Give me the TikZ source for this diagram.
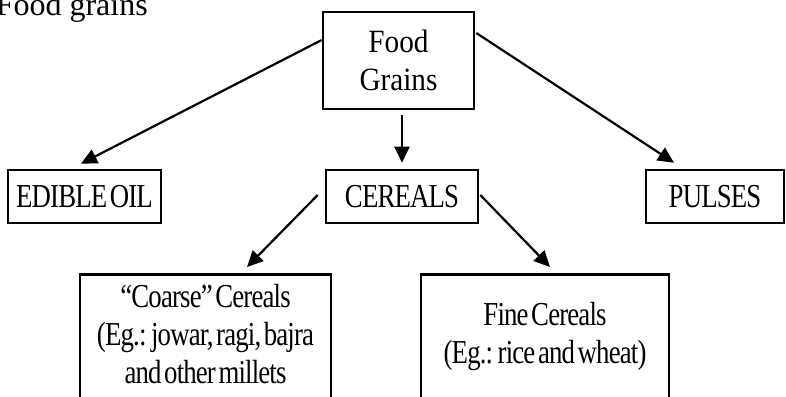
\documentclass[tikz,border=0pt]{standalone}
\usepackage{fontspec}
\setmainfont{Liberation Serif}
\newfontfamily\condfont{Liberation Serif}[FakeStretch=0.8,LetterSpace=-2.5,WordSpace=0.45,Ligatures=TeX]
\newfontfamily\semifont{Liberation Serif}[FakeStretch=0.9]
\usetikzlibrary{arrows.meta,calc}
\begin{document}
\begin{tikzpicture}[x=1pt,y=-1pt,
  box/.style={draw,line width=2.6pt,inner sep=0pt,align=center,font=\fontsize{33.5}{38}\selectfont\condfont},
  txt/.style={anchor=base,align=center,inner sep=0pt,font=\fontsize{33.5}{38}\selectfont\condfont},
  arr/.style={line width=2.2pt,-{Triangle[length=16pt,width=15pt]}}]
\useasboundingbox (0,0) rectangle (786,396);
\node[anchor=base east,inner sep=0pt,font=\fontsize{32}{38}\selectfont] (title) at (148,15.5) {Food grains};
\node[box,minimum width=151pt,minimum height=97pt,font=\fontsize{32.5}{38}\selectfont\semifont] (fg) at (398.5,60.5) {Food\\Grains};
\node[box,minimum width=153pt,minimum height=53pt] (eo) at (84.5,196.5) {EDIBLE OIL};
\node[box,minimum width=152pt,minimum height=53pt] (ce) at (402,196.5) {CEREALS};
\node[box,minimum width=138pt,minimum height=53pt] (pu) at (715,196.5) {PULSES};
\node[box,minimum width=251pt,minimum height=150pt,anchor=north] (cc) at (205.5,273) {};
\node[box,minimum width=248pt,minimum height=150pt,anchor=north] (fc) at (545,273) {};
\node[txt] (cct) at (205.5,383) {“Coarse” Cereals\\(Eg.: jowar, ragi, bajra\\and other millets};
\node[txt] (fct) at (545,363) {Fine Cereals\\(Eg.: rice and wheat)};
\coordinate (t1) at ($(eo.north)+(-3.5,-5)$);
\coordinate (t2) at ($(ce.north)+(0,-6)$);
\coordinate (t3) at ($(pu.north)+(-41,-6)$);
\coordinate (t4) at ($(cc.north)+(41.5,-6)$);
\coordinate (t5) at ($(fc.north)+(5,-6)$);
\draw[arr] ($(fg.west)+(0,-20.5)$) -- (t1);
\draw[arr] ($(fg.south)+(3.5,5)$) -- (t2);
\draw[arr] ($(fg.east)+(1,-27.5)$) -- (t3);
\draw[arr] ($(ce.west)+(-7,-1.5)$) -- (t4);
\draw[arr] ($(ce.east)+(1,-1.5)$) -- (t5);
\end{tikzpicture}
\end{document}
